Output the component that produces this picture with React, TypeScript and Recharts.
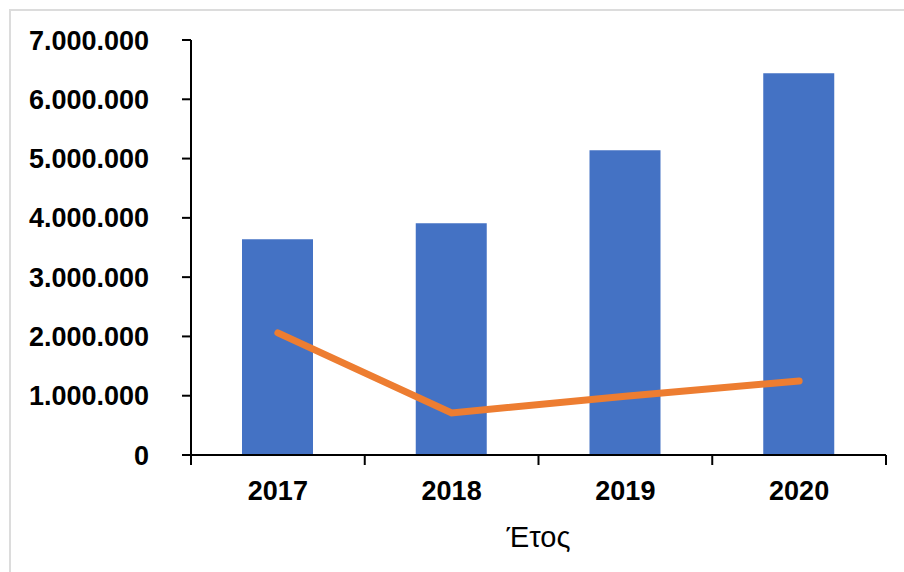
import React from 'react';
import { ComposedChart, Bar, Line, XAxis, YAxis, Label } from 'recharts';

// chart data
const years = ['2017', '2018', '2019', '2020'];
const barValues = [3640000, 3910000, 5140000, 6440000];
const lineValues = [2060000, 710000, 990000, 1250000];
const yTicks = [0, 1000000, 2000000, 3000000, 4000000, 5000000, 6000000, 7000000];

const data = years.map((year, i) => ({ year, bar: barValues[i], line: lineValues[i] }));

const W = 904;
const H = 572;
const margin = { top: 40, right: 18, left: 0, bottom: 0 };
const Y_AXIS_W = 191;
const X_AXIS_H = 117;
const FONT = '"Liberation Sans", Arial, sans-serif';

const plotWidth = W - margin.left - margin.right - Y_AXIS_W;
const band = plotWidth / years.length;

// greek style thousands separator
const formatNumber = (v: number) => String(v).replace(/\B(?=(\d{3})+(?!\d))/g, '.');

// x tick: label in the middle, tick marks on category boundaries
const XTick = (props: any) => {
  const { x, y, payload, index, visibleTicksCount } = props;
  const isLast = index === visibleTicksCount - 1;
  return (
    <g>
      <line x1={x - band / 2} x2={x - band / 2} y1={y} y2={y + 10} stroke="#000" strokeWidth={2} />
      {isLast && (
        <line x1={x + band / 2} x2={x + band / 2} y1={y} y2={y + 10} stroke="#000" strokeWidth={2} />
      )}
      <text
        x={x}
        y={y + 45}
        textAnchor="middle"
        fontFamily={FONT}
        fontWeight="bold"
        fontSize={27}
        fill="#000"
      >
        {payload.value}
      </text>
    </g>
  );
};

export default function App() {
  return (
    <div style={{ position: 'fixed', left: 0, top: 0, width: W, height: H, background: '#fff' }}>
      <div
        style={{
          position: 'absolute',
          left: 9,
          top: 9,
          right: -2,
          bottom: -2,
          borderTop: '2px solid #dcdcdc',
          borderLeft: '2px solid #dcdcdc',
        }}
      />
      <div style={{ position: 'absolute', left: 0, top: 0 }}>
        <ComposedChart width={W} height={H} data={data} margin={margin}>
          <XAxis
            dataKey="year"
            height={X_AXIS_H}
            axisLine={{ stroke: '#000', strokeWidth: 2 }}
            tickLine={false}
            tickSize={0}
            tickMargin={0}
            tick={<XTick />}
            interval={0}
          >
            <Label
              value="Έτος"
              position="insideBottom"
              offset={25}
              style={{ fontFamily: FONT, fontSize: 29, fill: '#000' }}
            />
          </XAxis>
          <YAxis
            width={Y_AXIS_W}
            domain={[0, 7000000]}
            ticks={yTicks}
            interval={0}
            tickFormatter={formatNumber}
            axisLine={{ stroke: '#000', strokeWidth: 2 }}
            tickLine={{ stroke: '#000', strokeWidth: 2 }}
            tickSize={9}
            tickMargin={33}
            tick={{ fontFamily: FONT, fontWeight: 'bold', fontSize: 27, fill: '#000' }}
          />
          <Bar dataKey="bar" fill="#4472C4" barSize={71} isAnimationActive={false} />
          <Line
            dataKey="line"
            type="linear"
            stroke="#ED7D31"
            strokeWidth={7}
            strokeLinecap="round"
            dot={false}
            activeDot={false}
            isAnimationActive={false}
          />
        </ComposedChart>
      </div>
    </div>
  );
}
